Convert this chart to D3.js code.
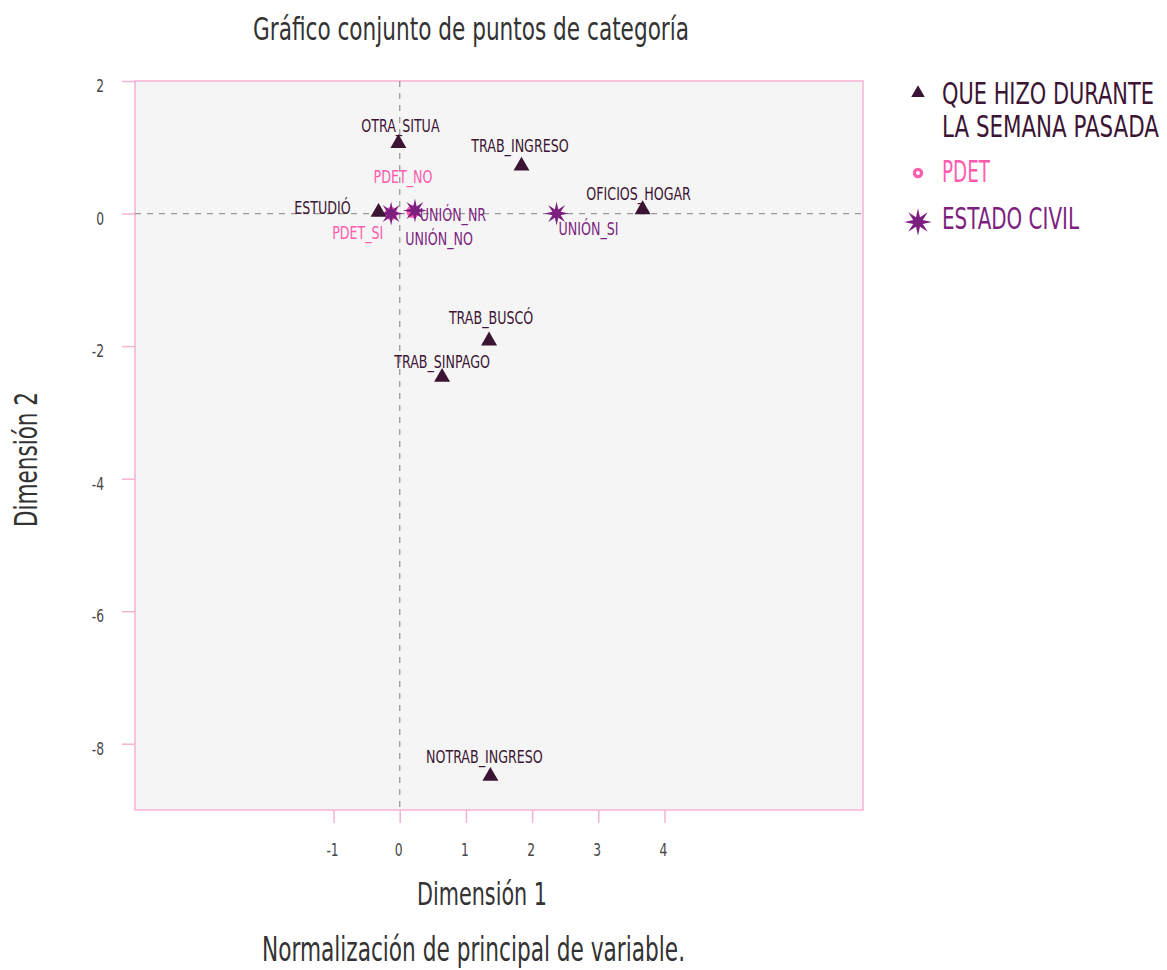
<!DOCTYPE html>
<html>
<head>
<meta charset="utf-8">
<script src="https://cdn.jsdelivr.net/npm/d3@7"></script>
<style>
  body { margin: 0; background: #fff; }
  svg text { font-family: "DejaVu Sans Condensed", "DejaVu Sans", sans-serif; }
</style>
</head>
<body>
<div id="chart"></div>
<script>
// Chart size
const width = 1167;
const height = 970;
const margin = { top: 81, right: 304, bottom: 160, left: 135 };
const CAP = 0.73;      // cap height ratio of the fallback font
const SQUEEZE = 0.76;  // horizontal squeeze to imitate a condensed face

// Data: categories per variable group
const trabajoNames = ["OTRA_SITUA", "TRAB_INGRESO", "OFICIOS_HOGAR", "ESTUDIÓ", "TRAB_BUSCÓ", "TRAB_SINPAGO", "NOTRAB_INGRESO"];
const trabajoDim1 = [-0.02, 1.84, 3.67, -0.32, 1.35, 0.64, 1.37];
const trabajoDim2 = [1.06, 0.72, 0.06, 0.02, -1.92, -2.47, -8.49];

const pdetNames = ["PDET_NO", "PDET_SI"];
const pdetDim1 = [0.2, -0.13];
const pdetDim2 = [0.03, 0.0];

const civilNames = ["UNIÓN_NO", "UNIÓN_NR", "UNIÓN_SI"];
const civilDim1 = [-0.13, 0.23, 2.37];
const civilDim2 = [0.0, 0.045, 0.0];

const xTicks = [-1, 0, 1, 2, 3, 4];
const yTicks = [2, 0, -2, -4, -6, -8];

const groupNames = ["QUE HIZO DURANTE LA SEMANA PASADA", "PDET", "ESTADO CIVIL"];
const groupColors = ["#3b1533", "#ff5cae", "#7d1f80"];

// label offsets (repelled text centre, px from the point)
const labelOffset = {
  "OTRA_SITUA": [2, -18.5], "TRAB_INGRESO": [-1.5, -21], "OFICIOS_HOGAR": [-4, -16.5],
  "ESTUDIÓ": [-56, -5], "TRAB_BUSCÓ": [2, -24], "TRAB_SINPAGO": [0, -16],
  "NOTRAB_INGRESO": [-6, -20], "PDET_NO": [-10, -35.5], "PDET_SI": [-33.4, 18.7],
  "UNIÓN_NO": [48, 25], "UNIÓN_NR": [38, 4], "UNIÓN_SI": [32, 14.5]
};

const groups = [
  { names: trabajoNames, d1: trabajoDim1, d2: trabajoDim2 },
  { names: pdetNames, d1: pdetDim1, d2: pdetDim2 },
  { names: civilNames, d1: civilDim1, d2: civilDim2 }
];

const points = [];
groups.forEach((g, gi) => {
  g.names.forEach((n, i) => points.push({ name: n, x: g.d1[i], y: g.d2[i], group: gi }));
});

const svg = d3.select("#chart").append("svg")
  .attr("width", width)
  .attr("height", height);

// squeeze text horizontally, either by a factor or to a target width
function squeeze(sel, target) {
  sel.each(function() {
    const w = this.getComputedTextLength();
    const t = target || w * SQUEEZE;
    d3.select(this).attr("textLength", t).attr("lengthAdjust", "spacingAndGlyphs");
  });
}

const x = d3.scaleLinear().domain([-4, 7]).range([margin.left, width - margin.right]);
const y = d3.scaleLinear().domain([-9, 2]).range([height - margin.bottom, margin.top]);

// panel
svg.append("rect")
  .attr("x", x(-4)).attr("y", y(2))
  .attr("width", x(7) - x(-4)).attr("height", y(-9) - y(2))
  .attr("fill", "#f5f5f5")
  .attr("stroke", "#f5b3d3").attr("stroke-width", 1.5);

// dashed reference lines
svg.append("line")
  .attr("x1", x(-4)).attr("x2", x(7)).attr("y1", y(0)).attr("y2", y(0))
  .attr("stroke", "#9a9a9a").attr("stroke-width", 1.3).attr("stroke-dasharray", "6,6");
svg.append("line")
  .attr("x1", x(0)).attr("x2", x(0)).attr("y1", y(2)).attr("y2", y(-9))
  .attr("stroke", "#9a9a9a").attr("stroke-width", 1.3).attr("stroke-dasharray", "6,6");

// axes
const tickFont = 18;
const fmt = d => d < 0 ? "-" + Math.abs(d) : String(d);
const xAxis = svg.append("g")
  .attr("transform", `translate(0, ${y(-9)})`)
  .call(d3.axisBottom(x).tickValues(xTicks).tickSize(13).tickFormat(fmt));
const yAxis = svg.append("g")
  .attr("transform", `translate(${x(-4)}, 0)`)
  .call(d3.axisLeft(y).tickValues(yTicks).tickSize(13).tickFormat(fmt));
[xAxis, yAxis].forEach(a => {
  a.select(".domain").remove();
  a.selectAll(".tick line").attr("stroke", "#f5b3d3").attr("stroke-width", 1.5);
  a.selectAll(".tick text").attr("fill", "#474747").attr("dy", null)
    .style("font-size", tickFont + "px");
});
xAxis.selectAll(".tick text").attr("x", -1.5).attr("y", 46);
yAxis.selectAll(".tick text").attr("x", -31).attr("y", 4 + tickFont * CAP / 2);
squeeze(xAxis.selectAll(".tick text"));
squeeze(yAxis.selectAll(".tick text"));

// star shape
function starPath(r, ri, n) {
  const pts = [];
  for (let i = 0; i < n * 2; i++) {
    const a = Math.PI * i / n - Math.PI / 2;
    const rr = i % 2 === 0 ? r : ri;
    pts.push([rr * Math.cos(a), rr * Math.sin(a)]);
  }
  return d3.line()(pts) + "Z";
}

function drawMarker(sel, group, scale) {
  if (group === 0) {
    sel.append("path").attr("d", d3.symbol().type(d3.symbolTriangle).size(110 * scale * scale)())
      .attr("fill", groupColors[0]);
  } else if (group === 1) {
    sel.append("circle").attr("r", 4.5 * scale).attr("fill", "#fff")
      .attr("stroke", groupColors[1]).attr("stroke-width", 4 * scale);
  } else {
    sel.append("path").attr("d", starPath(12 * scale, 4.5 * scale, 8))
      .attr("fill", groupColors[2]);
  }
}

// markers: pdet first, then civil, then trabajo
[1, 2, 0].forEach(gi => {
  points.filter(p => p.group === gi).forEach(p => {
    const g = svg.append("g").attr("transform", `translate(${x(p.x)}, ${y(p.y)})`);
    drawMarker(g, gi, 1);
  });
});

// labels
const labelFont = 18.5;
const labels = svg.append("g").selectAll("text")
  .data(points)
  .enter()
  .append("text")
  .attr("x", d => x(d.x) + labelOffset[d.name][0])
  .attr("y", d => y(d.y) + labelOffset[d.name][1] + labelFont * CAP / 2)
  .attr("text-anchor", "middle")
  .attr("fill", d => groupColors[d.group])
  .style("font-size", labelFont + "px")
  .text(d => d.name);
squeeze(labels);

// legend (text squeezed with a scale transform so its box stays narrow)
const legendFont = 30;
const legend = svg.append("g").attr("transform", "translate(918, 0)");
const legendRows = [
  { lines: ["QUE HIZO DURANTE", "LA SEMANA PASADA"], widths: [212, 217], marker: 93, base: 104 },
  { lines: [groupNames[1]], widths: [48], marker: 173, base: 182 },
  { lines: [groupNames[2]], widths: [137], marker: 222, base: 229 }
];
legendRows.forEach((row, i) => {
  const g = legend.append("g").attr("transform", `translate(0, ${row.marker})`);
  drawMarker(g, i, i === 2 ? 1.15 : (i === 1 ? 0.8 : 0.85));
  row.lines.forEach((l, j) => {
    const holder = legend.append("g");
    const t = holder.append("text")
      .attr("fill", groupColors[i])
      .style("font-size", legendFont + "px")
      .text(l);
    const sx = row.widths[j] / t.node().getComputedTextLength();
    holder.attr("transform", `translate(24, ${row.base + j * 33}) scale(${sx}, 1)`);
  });
});

// titles
function title(txt, cx, base, size, w, rotate) {
  const t = svg.append("text")
    .attr("text-anchor", "middle")
    .attr("fill", "#333")
    .style("font-size", size + "px")
    .text(txt);
  if (rotate) {
    t.attr("transform", `translate(${base}, ${cx}) rotate(-90)`);
  } else {
    t.attr("x", cx).attr("y", base);
  }
  squeeze(t, w);
}
title("Gráfico conjunto de puntos de categoría", 471, 40, 32, 436);
title("Dimensión 1", 482, 905, 31.5, 130);
title("Dimensión 2", 459.5, 36.5, 31.5, 135, true);
title("Normalización de principal de variable.", 473.5, 961, 33, 423);
</script>
</body>
</html>
